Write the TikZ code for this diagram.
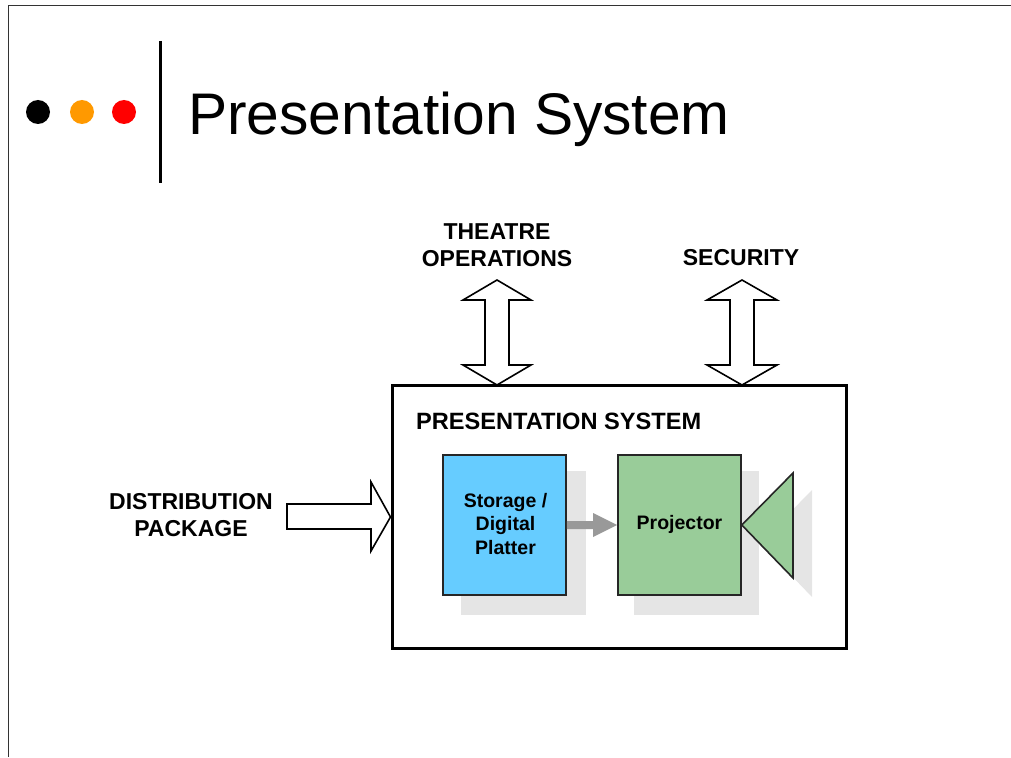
\documentclass[tikz,border=0pt]{standalone}
\usepackage{fontspec}
\setmainfont{Liberation Sans}
\definecolor{dotorange}{RGB}{255,153,0}
\definecolor{storeblue}{RGB}{102,204,255}
\definecolor{projgreen}{RGB}{153,204,153}
\begin{document}
\begin{tikzpicture}[x=1pt,y=-1pt,
  lbl/.style={font=\fontsize{23}{23}\selectfont\bfseries, inner sep=0pt, anchor=base},
  boxlbl/.style={font=\fontsize{19.5}{23.5}\selectfont\bfseries, align=center, inner sep=0pt},
  shadowfill/.style={fill=black!10, draw=none},
  blockarrow/.style={draw=black, line width=1.6pt, fill=white, line join=miter},
  comp/.style={draw=black!85, line width=1.6pt}]
\useasboundingbox (0,0) rectangle (1011,757);
% slide frame
\draw[black!80, line width=1pt] (8,757) -- (8,6) -- (1011,6);
% title decorations
\fill[black] (38,112) circle (12);
\fill[dotorange] (82,112) circle (12);
\fill[red] (124,112) circle (12);
\draw[line width=3pt] (160,41) -- (160,183);
\node[font=\fontsize{58.7}{60}\selectfont, anchor=base west, inner sep=0pt] (title) at (188,135) {Presentation System};
% labels
\node[lbl] (theatre) at (497,239) {THEATRE};
\node[lbl] (operations) at (497,266) {OPERATIONS};
\node[lbl] (security) at (741,265) {SECURITY};
\node[lbl] (dist) at (191,509) {DISTRIBUTION};
\node[lbl] (pkg) at (191,536) {PACKAGE};
% main box
\node[draw=black, line width=3pt, minimum width=454, minimum height=263, inner sep=0pt] (main) at (619,516.5) {};
\node[lbl, anchor=base west, font=\fontsize{23.6}{24}\selectfont\bfseries] (mainlbl) at (416,429) {PRESENTATION SYSTEM};
% shadows
\fill[shadowfill] (461,471) rectangle (586,615);
\fill[shadowfill] (634,471) rectangle (759,615);
\fill[shadowfill] (760,543) -- (812,490) -- (812,597) -- cycle;
% storage and projector
\node[comp, fill=storeblue, minimum width=123, minimum height=140, inner sep=0pt] (storage) at (504.5,525) {};
\node[boxlbl] (storagelbl) at (505.5,524) {Storage /\\Digital\\Platter};
\node[comp, fill=projgreen, minimum width=123, minimum height=140, inner sep=0pt] (proj) at (679.5,525) {};
\node[boxlbl] (projlbl) at (679.5,524) {Projector};
\draw[comp, fill=projgreen, line join=miter] (proj.east |- 0,525) coordinate (lens) -- (793,473) -- (793,578) -- cycle;
% gray arrow storage -> projector
\fill[black!40] (storage.east |- 0,521) -- (593,521) -- (593,513) -- (proj.west |- 0,525) -- (593,537) -- (593,529) -- (storage.east |- 0,529) -- cycle;
% double arrows
\coordinate (ta) at (497,280);
\draw[blockarrow] (ta) -- (531,300) -- (509,300) -- (509,365) -- (531,365) -- (497,385) -- (463,365) -- (485,365) -- (485,300) -- (463,300) -- cycle;
\coordinate (sa) at (742,280);
\draw[blockarrow] (sa) -- (777,300) -- (754,300) -- (754,365) -- (777,365) -- (742,385) -- (707,365) -- (730,365) -- (730,300) -- (707,300) -- cycle;
% distribution arrow
\draw[blockarrow] (287,504) -- (371,504) -- (371,482) -- (main.west |- 0,517) -- (371,551) -- (371,529) -- (287,529) -- cycle;
\end{tikzpicture}
\end{document}
